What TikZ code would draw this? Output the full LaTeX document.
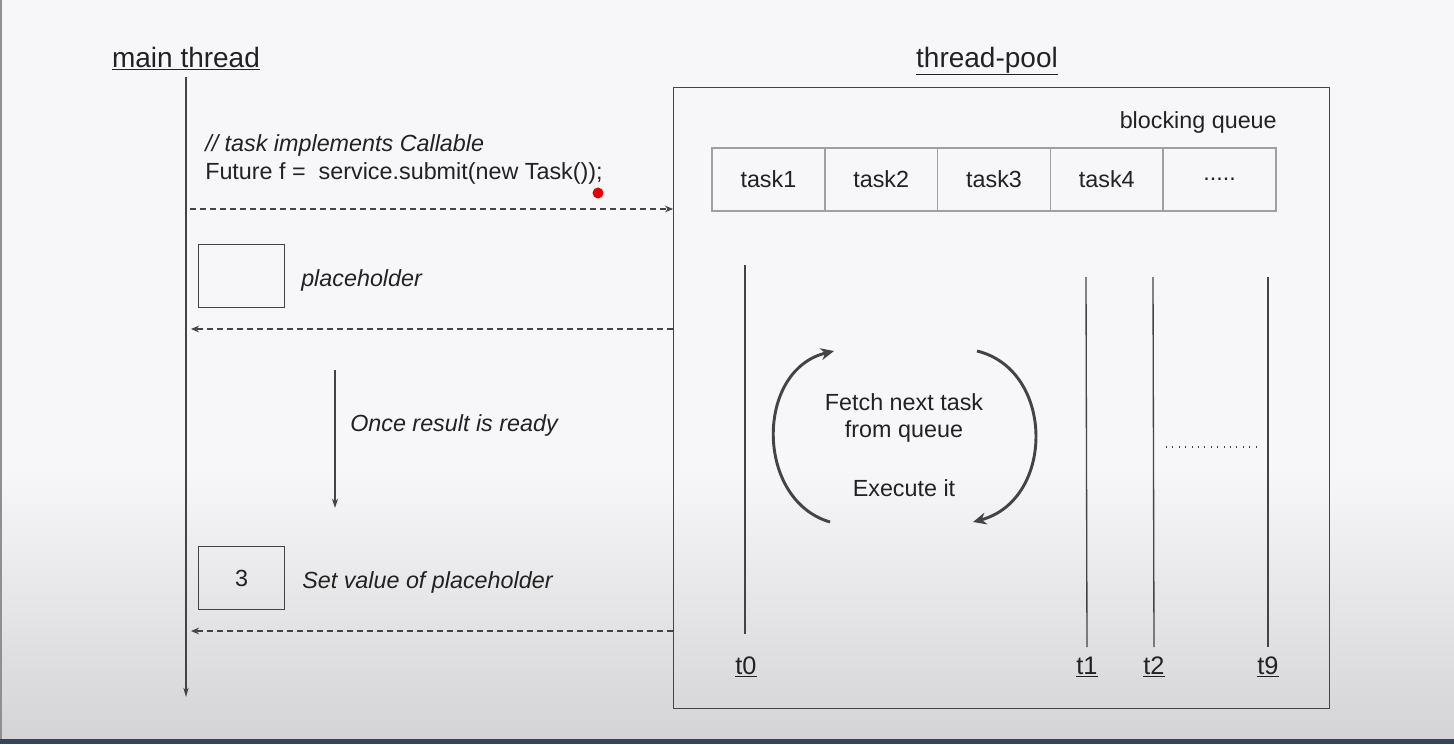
\documentclass[tikz,border=0pt]{standalone}
\usepackage{fontspec}
\setmainfont{Liberation Sans}
\usetikzlibrary{arrows.meta}
\definecolor{bgtop}{HTML}{F7F6F9}
\definecolor{bgbot}{HTML}{D4D4D6}
\definecolor{barcol}{HTML}{34465C}
\definecolor{ink}{HTML}{222222}
\definecolor{linec}{HTML}{444444}
\definecolor{cellc}{HTML}{A0A0A0}
\tikzset{
  body/.style={text=ink, font=\fontsize{17.5}{21}\selectfont, inner sep=0pt},
  ital/.style={body, font=\fontsize{17.5}{21}\selectfont\itshape},
  title/.style={text=ink, font=\fontsize{21}{25}\selectfont, inner sep=0pt},
  tlabel/.style={text=ink, font=\fontsize{19}{23}\selectfont, inner sep=0pt},
  lifeline/.style={draw=linec, line width=1.1pt},
  msg/.style={draw=linec, line width=1pt, dash pattern=on 4.5pt off 3pt, -{Stealth[length=6pt,width=5pt]}},
  phbox/.style={draw=linec, line width=1.1pt, minimum width=64.5pt, minimum height=47pt, inner sep=0pt, body},
  cell/.style={draw=cellc, line width=1.1pt, minimum width=84.6pt, minimum height=47.25pt, inner sep=0pt, outer sep=0pt, body},
  loop/.style={draw=linec, line width=2.2pt, -{Stealth[length=10pt,width=9pt]}},
}
\begin{document}
\begin{tikzpicture}[x=0.75pt,y=-0.75pt]
\useasboundingbox (0,0) rectangle (1454,744);
% background
\fill[bgtop] (0,0) rectangle (1454,744);
\shade[top color=bgtop, bottom color=bgbot] (0,470) rectangle (1454,739);
\fill[barcol] (0,739) rectangle (1454,744);
\fill[linec!60] (0,0) rectangle (2,739);

% titles
\node[title, anchor=base] (mt) at (186,67) {\underline{main thread}};
\node[title, anchor=base] (tp) at (987,67) {\underline{thread-pool}};

% main thread lifeline
\coordinate (mtop) at (186,77);
\coordinate (mbot) at (186,697);
\draw[lifeline, -{Stealth[length=7pt,width=4pt]}] (mtop) -- (mbot);

% thread pool box
\node[draw=linec, line width=1.1pt, minimum width=492pt, minimum height=465.75pt, inner sep=0pt, anchor=north west] (pool) at (673,87) {};

% code text
\node[ital, anchor=west] (cmt) at (205,145) {// task implements Callable};
\node[body, anchor=west] (code) at (205,173) {Future f =\ \ service.submit(new Task());};
\fill[red!90!black] (598,193) circle (5.5);

% message 1
\coordinate (m1) at (190,209);
\draw[msg] (m1) -- (pool.west |- m1);

% placeholder
\node[phbox, anchor=north west] (ph) at (198,244) {};
\node[ital, anchor=west] (phl) at (301,280) {placeholder};

% message 2
\coordinate (m2) at (191,329);
\draw[msg] (pool.west |- m2) -- (m2);

% once result ready
\coordinate (r1) at (335,370);
\coordinate (r2) at (335,508);
\draw[draw=linec, line width=1.1pt, -{Stealth[length=7pt,width=4.5pt]}] (r1) -- (r2);
\node[ital, anchor=west] (orr) at (350,425) {Once result is ready};

% value box
\node[phbox, anchor=north west] (vb) at (198,546) {3};
\node[ital, anchor=west] (svl) at (302,582) {Set value of placeholder};

% message 3
\coordinate (m3) at (191,631);
\draw[msg] (pool.west |- m3) -- (m3);

% blocking queue
\node[body, anchor=east] (bq) at (1277,122) {blocking queue};
\node[cell, anchor=north west] (c1) at (712,148) {task1};
\node[cell, anchor=west] (c2) at (c1.east) {task2};
\node[cell, anchor=west] (c3) at (c2.east) {task3};
\node[cell, anchor=west] (c4) at (c3.east) {task4};
\node[cell, anchor=west] (c5) at (c4.east) {.....};

% worker threads
\node[tlabel] (t0) at (746,667) {\underline{t0}};
\node[tlabel] (t1) at (1087,667) {\underline{t1}};
\node[tlabel] (t2) at (1154,667) {\underline{t2}};
\node[tlabel] (t9) at (1268,667) {\underline{t9}};
\coordinate (t0top) at (745,265);
\coordinate (t1top) at (1086,277);
\coordinate (t2top) at (1153,277);
\coordinate (t9top) at (1268,277);
\draw[draw=linec, line width=1pt] (t0top) -- (745,634);
\draw[draw=linec, line width=1pt] (t1top) -- (1087,647);
\draw[draw=linec, line width=1pt] (t2top) -- (1154,647);
\draw[draw=linec, line width=1pt] (t9top) -- (1268,647);
\coordinate (d1) at (1166,447);
\coordinate (d2) at (1258,447);
\draw[draw=linec, line width=0.9pt, dash pattern=on 0.8pt off 4pt] (d1) -- (d2);

% loop
\node[body] (f1) at (904,402) {Fetch next task};
\node[body] (f2) at (904,431) {from queue};
\node[body] (ex) at (904,488) {Execute it};
\coordinate (la) at (830,522);
\coordinate (lb) at (834,351);
\coordinate (ra) at (977,351);
\coordinate (rb) at (973,522);
\draw[loop] (la) .. controls (755,500) and (755,370) .. (lb);
\draw[loop] (ra) .. controls (1055,370) and (1055,500) .. (rb);
\end{tikzpicture}
\end{document}
